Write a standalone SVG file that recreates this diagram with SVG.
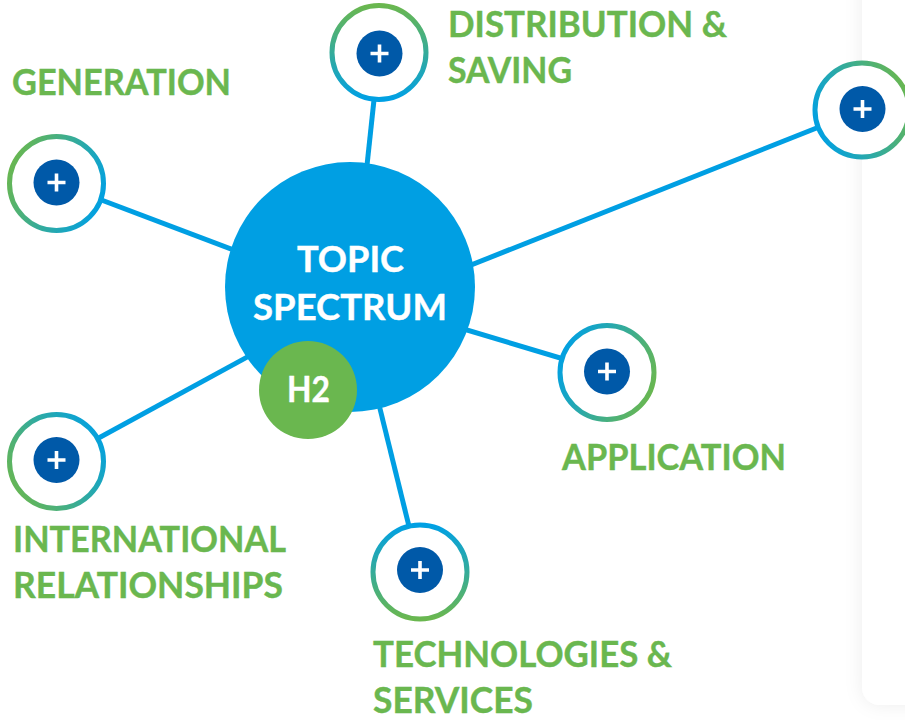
<svg xmlns="http://www.w3.org/2000/svg" width="905" height="720" viewBox="0 0 905 720">
<defs>
<style>
.lbl{font-family:Lato,"Open Sans","Liberation Sans",sans-serif;font-weight:700;font-size:36.5px;fill:#6AB74F;stroke:#6AB74F;stroke-width:0.4}
.hubt{font-family:Lato,"Open Sans","Liberation Sans",sans-serif;font-weight:700;font-size:36.5px;fill:#FFFFFF;stroke:#FFFFFF;stroke-width:0.4}
.conn{stroke:#009FE3;stroke-width:5;fill:none}
.ring{fill:#FFFFFF;stroke-width:5}
.dot{fill:#0059A8}
.plus{stroke:#FFFFFF;stroke-width:3.6;fill:none}
</style>
<linearGradient id="gDown" x1="0.5" y1="0" x2="0.5" y2="1"><stop offset="0" stop-color="#6AB74F"/><stop offset="1" stop-color="#00A0E4"/></linearGradient>
<linearGradient id="gUp" x1="0.5" y1="1" x2="0.5" y2="0"><stop offset="0" stop-color="#6AB74F"/><stop offset="1" stop-color="#00A0E4"/></linearGradient>
<linearGradient id="gRightDown" x1="0" y1="0.3" x2="1" y2="0.7"><stop offset="0" stop-color="#6AB74F"/><stop offset="1" stop-color="#00A0E4"/></linearGradient>
<linearGradient id="gRightUp" x1="0" y1="0.8" x2="1" y2="0.2"><stop offset="0" stop-color="#6AB74F"/><stop offset="1" stop-color="#00A0E4"/></linearGradient>
<linearGradient id="gLeftDown" x1="1" y1="0.3" x2="0" y2="0.7"><stop offset="0" stop-color="#6AB74F"/><stop offset="1" stop-color="#00A0E4"/></linearGradient>
<linearGradient id="gLeftUp" x1="1" y1="0.7" x2="0" y2="0.3"><stop offset="0" stop-color="#6AB74F"/><stop offset="1" stop-color="#00A0E4"/></linearGradient>
<filter id="shadow" x="-50%" y="-10%" width="200%" height="130%">
<feDropShadow dx="0" dy="0" stdDeviation="9" flood-color="#000000" flood-opacity="0.07"/>
</filter>
</defs>
<rect x="0" y="0" width="905" height="720" fill="#FFFFFF"/>
<rect id="card" x="862" y="-40" width="120" height="745" rx="18" fill="#FFFFFF" filter="url(#shadow)"/>

<g id="connectors">
<line class="conn" x1="56.5" y1="183" x2="350" y2="294"/>
<line class="conn" x1="56.5" y1="461" x2="350" y2="301"/>
<line class="conn" x1="379" y1="53" x2="354" y2="287"/>
<line class="conn" x1="862" y1="110" x2="350" y2="313"/>
<line class="conn" x1="607" y1="372" x2="350" y2="295"/>
<line class="conn" x1="420" y1="571" x2="350" y2="287"/>
</g>

<g id="hub">
<circle cx="350" cy="287" r="125" fill="#009FE3"/>
<text class="hubt" x="350.5" y="272" text-anchor="middle" textLength="107" lengthAdjust="spacingAndGlyphs">TOPIC</text>
<text class="hubt" x="350" y="320" text-anchor="middle" textLength="194" lengthAdjust="spacingAndGlyphs">SPECTRUM</text>
</g>
<g id="h2">
<circle cx="308" cy="390" r="49" fill="#6AB74F"/>
<text class="hubt" x="308.5" y="402" text-anchor="middle" textLength="43" lengthAdjust="spacingAndGlyphs">H2</text>
</g>

<g id="node-generation">
<circle class="ring" cx="56.5" cy="183.5" r="47" stroke="url(#gRightDown)"/>
<circle class="dot" cx="56.5" cy="182.5" r="23"/>
<path class="plus" d="M47.5 182.5H65.5M56.5 173.5V191.5"/>
<text class="lbl" x="12" y="95" textLength="219" lengthAdjust="spacingAndGlyphs">GENERATION</text>
</g>

<g id="node-distribution">
<circle class="ring" cx="379" cy="52.5" r="47" stroke="url(#gDown)"/>
<circle class="dot" cx="379.5" cy="53.5" r="23"/>
<path class="plus" d="M370.5 53.5H388.5M379.5 44.5V62.5"/>
<text class="lbl" x="448" y="37" textLength="279" lengthAdjust="spacingAndGlyphs">DISTRIBUTION &amp;</text>
<text class="lbl" x="448" y="83" textLength="124" lengthAdjust="spacingAndGlyphs">SAVING</text>
</g>

<g id="node-right">
<circle class="ring" cx="862" cy="110" r="47" stroke="url(#gLeftDown)"/>
<circle class="dot" cx="862.5" cy="109" r="23"/>
<path class="plus" d="M853.5 109H871.5M862.5 100V118"/>
</g>

<g id="node-application">
<circle class="ring" cx="607" cy="372.5" r="47" stroke="url(#gLeftUp)"/>
<circle class="dot" cx="607" cy="371.5" r="23"/>
<path class="plus" d="M598 371.5H616M607 362.5V380.5"/>
<text class="lbl" x="562" y="470" textLength="224" lengthAdjust="spacingAndGlyphs">APPLICATION</text>
</g>

<g id="node-international">
<circle class="ring" cx="56.5" cy="461.5" r="47" stroke="url(#gRightUp)"/>
<circle class="dot" cx="56.5" cy="460" r="23"/>
<path class="plus" d="M47.5 460H65.5M56.5 451V469"/>
<text class="lbl" x="13" y="552" textLength="273" lengthAdjust="spacingAndGlyphs">INTERNATIONAL</text>
<text class="lbl" x="13" y="598" textLength="270" lengthAdjust="spacingAndGlyphs">RELATIONSHIPS</text>
</g>

<g id="node-technologies">
<circle class="ring" cx="420" cy="572" r="47" stroke="url(#gUp)"/>
<circle class="dot" cx="420" cy="570" r="23"/>
<path class="plus" d="M411 570H429M420 561V579"/>
<text class="lbl" x="373" y="667" textLength="299" lengthAdjust="spacingAndGlyphs">TECHNOLOGIES &amp;</text>
<text class="lbl" x="373" y="713" textLength="160" lengthAdjust="spacingAndGlyphs">SERVICES</text>
</g>
</svg>
